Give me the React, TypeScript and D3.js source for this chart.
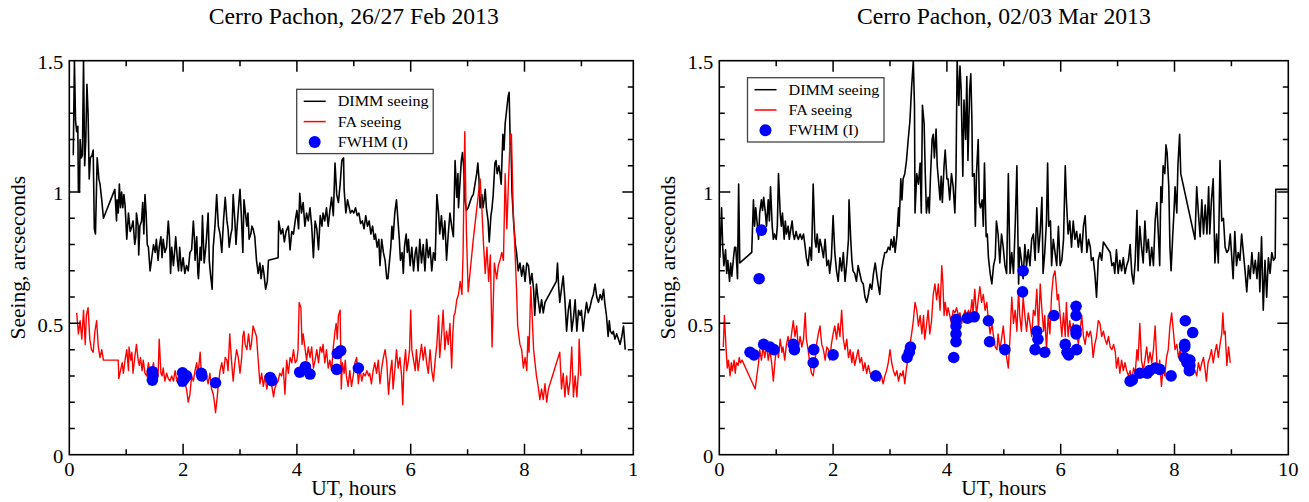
import * as d3 from "d3";

type Pt = [number, number];

// UT hours / seeing (arcsec)
const dimmFeb: Pt[] = [
  [0.07,1.14],[0.09,1.5],[0.11,1.27],[0.13,1.23],[0.15,1.25],[0.16,1.0],[0.18,1.0],[0.19,1.2],[0.21,1.13],[0.23,1.14],
  [0.25,1.5],[0.27,1.1],[0.29,1.2],[0.31,1.41],[0.33,1.3],[0.35,1.05],[0.37,1.13],[0.40,1.14],[0.42,1.16],[0.44,0.86],
  [0.46,0.84],[0.49,1.13],[0.52,1.05],[0.54,1.03],[0.57,0.97],[0.60,0.90],[0.80,1.01],[0.83,0.89],[0.84,0.97],[0.86,0.92],
  [0.88,1.03],[0.90,0.94],[0.92,1.0],[0.94,0.94],[0.96,0.99],[0.98,0.95],[1.01,0.82],[1.04,0.92],[1.07,0.85],[1.10,0.87],
  [1.12,0.89],[1.15,0.80],[1.17,0.83],[1.18,0.92],[1.21,0.87],[1.22,0.76],[1.24,0.87],[1.27,0.89],[1.29,0.96],[1.31,0.84],
  [1.33,0.99],[1.35,0.92],[1.37,0.80],[1.39,0.79],[1.42,0.70],[1.45,0.75],[1.48,0.80],[1.51,0.77],[1.53,0.82],[1.56,0.74],
  [1.58,0.79],[1.61,0.83],[1.63,0.75],[1.65,0.82],[1.68,0.77],[1.71,0.79],[1.74,0.89],[1.76,0.83],[1.78,0.69],[1.80,0.79],
  [1.83,0.72],[1.85,0.77],[1.87,0.83],[1.90,0.74],[1.92,0.70],[1.94,0.79],[1.97,0.70],[2.0,0.75],[2.03,0.69],[2.06,0.72],
  [2.09,0.70],[2.12,0.77],[2.15,0.78],[2.18,0.89],[2.20,0.82],[2.21,0.74],[2.24,0.83],[2.26,0.69],[2.27,0.67],[2.30,0.79],
  [2.32,0.74],[2.34,0.91],[2.37,0.73],[2.39,0.77],[2.41,0.82],[2.44,0.92],[2.46,0.74],[2.48,0.69],[2.51,0.63],[2.53,0.79],
  [2.56,0.87],[2.59,0.99],[2.62,0.87],[2.65,0.84],[2.68,0.77],[2.71,0.89],[2.74,0.98],[2.77,0.89],[2.79,0.86],[2.81,0.79],
  [2.84,0.84],[2.86,0.86],[2.88,0.99],[2.91,0.89],[2.93,0.80],[2.95,0.87],[2.98,0.96],[3.0,1.01],[3.02,0.93],[3.05,0.77],
  [3.07,0.97],[3.09,0.93],[3.12,0.87],[3.14,0.92],[3.16,0.82],[3.19,0.84],[3.21,0.87],[3.23,0.86],[3.26,0.83],[3.29,0.74],
  [3.32,0.69],[3.35,0.73],[3.37,0.67],[3.40,0.72],[3.42,0.69],[3.45,0.63],[3.48,0.66],[3.50,0.74],[3.67,0.75],[3.68,0.89],
  [3.72,0.84],[3.75,0.86],[3.78,0.81],[3.81,0.85],[3.85,0.87],[3.88,0.78],[3.91,0.85],[3.94,0.84],[3.97,0.89],[4.0,0.93],
  [4.03,0.86],[4.05,0.995],[4.08,0.92],[4.11,0.96],[4.14,0.87],[4.17,0.92],[4.20,0.89],[4.23,0.94],[4.26,0.87],[4.29,0.75],
  [4.32,0.89],[4.35,0.86],[4.38,0.78],[4.41,0.91],[4.44,0.87],[4.46,0.92],[4.49,0.89],[4.52,0.94],[4.55,0.87],[4.58,0.93],
  [4.61,0.98],[4.64,0.91],[4.67,1.11],[4.70,0.99],[4.73,0.96],[4.76,1.03],[4.79,1.12],[4.82,1.13],[4.83,1.01],[4.86,0.92],
  [4.89,0.97],[4.92,0.94],[4.94,0.92],[4.97,0.93],[5.0,0.92],[5.03,0.94],[5.06,0.91],[5.09,0.92],[5.12,0.88],[5.15,0.89],
  [5.18,0.86],[5.21,0.91],[5.24,0.87],[5.27,0.89],[5.30,0.84],[5.33,0.87],[5.36,0.82],[5.38,0.84],[5.41,0.79],[5.44,0.82],
  [5.46,0.72],[5.49,0.82],[5.52,0.77],[5.55,0.74],[5.58,0.67],[5.60,0.67],[5.62,0.72],[5.65,0.79],[5.67,0.87],[5.69,0.82],
  [5.72,0.92],[5.75,0.97],[5.78,0.88],[5.80,0.82],[5.82,0.74],[5.85,0.77],[5.87,0.69],[5.89,0.79],[5.92,0.84],[5.94,0.77],
  [5.96,0.82],[5.99,0.72],[6.02,0.79],[6.05,0.70],[6.08,0.77],[6.10,0.79],[6.13,0.70],[6.16,0.82],[6.19,0.73],[6.22,0.80],
  [6.25,0.70],[6.28,0.82],[6.31,0.75],[6.34,0.79],[6.37,0.70],[6.40,0.77],[6.43,0.74],[6.46,0.99],[6.49,0.92],[6.51,0.84],
  [6.54,0.91],[6.57,0.82],[6.60,0.89],[6.63,0.74],[6.66,0.84],[6.69,0.92],[6.72,0.87],[6.75,0.83],[6.76,0.92],[6.78,1.12],
  [6.81,0.98],[6.83,1.07],[6.84,0.94],[6.87,1.05],[6.89,1.12],[6.91,1.15],[6.93,1.10],[6.95,0.97],[6.98,0.93],[7.01,0.94],
  [7.04,0.96],[7.07,0.98],[7.10,0.99],[7.13,1.03],[7.16,1.07],[7.18,1.11],[7.20,1.05],[7.22,0.94],[7.25,0.99],[7.27,0.94],
  [7.29,0.97],[7.31,1.01],[7.33,0.94],[7.36,0.89],[7.38,0.81],[7.41,0.91],[7.43,0.94],[7.45,0.99],[7.48,1.11],[7.50,1.12],
  [7.52,1.07],[7.55,1.10],[7.57,1.07],[7.59,1.03],[7.62,1.22],[7.64,1.16],[7.66,1.26],[7.69,1.32],[7.71,1.36],[7.73,1.38],
  [7.75,1.18],[7.76,1.21],[7.78,1.0],[7.81,0.88],[7.84,0.80],[7.86,0.77],[7.89,0.70],[7.92,0.73],[7.95,0.68],[7.98,0.72],
  [8.01,0.66],[8.04,0.73],[8.07,0.72],[8.10,0.65],[8.13,0.69],[8.16,0.63],[8.18,0.53],[8.21,0.65],[8.24,0.59],[8.27,0.54],
  [8.30,0.59],[8.33,0.54],[8.36,0.58],[8.56,0.66],[8.58,0.73],[8.60,0.64],[8.62,0.58],[8.65,0.63],[8.68,0.68],[8.71,0.59],
  [8.74,0.47],[8.77,0.55],[8.80,0.59],[8.83,0.47],[8.86,0.52],[8.89,0.59],[8.92,0.47],[8.95,0.55],[8.98,0.53],[9.0,0.55],
  [9.03,0.47],[9.06,0.53],[9.09,0.58],[9.12,0.54],[9.15,0.56],[9.18,0.59],[9.21,0.61],[9.24,0.65],[9.27,0.60],[9.30,0.58],
  [9.33,0.61],[9.36,0.59],[9.39,0.63],[9.41,0.58],[9.44,0.53],[9.47,0.45],[9.49,0.51],[9.51,0.47],[9.54,0.46],[9.56,0.47],
  [9.59,0.44],[9.62,0.46],[9.65,0.44],[9.68,0.42],[9.71,0.45],[9.74,0.49],[9.77,0.40],
];

const faFeb: Pt[] = [
  [0.13,0.54],[0.16,0.46],[0.19,0.51],[0.22,0.44],[0.25,0.55],[0.28,0.42],[0.30,0.53],[0.33,0.56],[0.36,0.44],[0.39,0.40],
  [0.42,0.39],[0.45,0.47],[0.48,0.51],[0.51,0.41],[0.54,0.37],[0.57,0.40],[0.60,0.36],[0.64,0.36],[0.86,0.36],[0.87,0.29],
  [0.90,0.32],[0.93,0.35],[0.95,0.31],[0.98,0.36],[1.01,0.40],[1.04,0.32],[1.05,0.41],[1.08,0.36],[1.10,0.39],[1.12,0.31],
  [1.15,0.37],[1.18,0.42],[1.21,0.36],[1.23,0.34],[1.25,0.37],[1.28,0.32],[1.30,0.36],[1.33,0.31],[1.36,0.30],[1.39,0.35],
  [1.42,0.31],[1.45,0.32],[1.48,0.35],[1.51,0.28],[1.53,0.33],[1.56,0.30],[1.58,0.44],[1.61,0.31],[1.63,0.30],[1.65,0.33],
  [1.68,0.28],[1.71,0.31],[1.74,0.29],[1.77,0.28],[1.80,0.30],[1.83,0.28],[1.86,0.32],[1.89,0.28],[1.92,0.30],[1.94,0.26],
  [1.97,0.28],[2.0,0.32],[2.03,0.27],[2.06,0.25],[2.09,0.20],[2.12,0.23],[2.15,0.30],[2.18,0.28],[2.21,0.32],[2.24,0.35],
  [2.26,0.30],[2.30,0.39],[2.32,0.31],[2.36,0.28],[2.38,0.31],[2.41,0.30],[2.44,0.27],[2.47,0.31],[2.50,0.25],[2.53,0.23],
  [2.55,0.20],[2.57,0.16],[2.60,0.22],[2.62,0.27],[2.65,0.32],[2.68,0.35],[2.71,0.31],[2.74,0.37],[2.77,0.36],[2.79,0.32],
  [2.82,0.46],[2.85,0.36],[2.88,0.28],[2.91,0.35],[2.94,0.40],[2.97,0.37],[3.0,0.31],[3.03,0.37],[3.05,0.45],[3.07,0.47],
  [3.09,0.42],[3.12,0.40],[3.15,0.46],[3.18,0.40],[3.20,0.42],[3.23,0.49],[3.26,0.47],[3.29,0.45],[3.32,0.36],[3.35,0.27],
  [3.38,0.31],[3.41,0.26],[3.44,0.30],[3.47,0.25],[3.50,0.28],[3.53,0.27],[3.56,0.26],[3.59,0.22],[3.61,0.25],[3.64,0.27],
  [3.67,0.28],[3.70,0.31],[3.73,0.30],[3.76,0.33],[3.79,0.23],[3.82,0.36],[3.85,0.31],[3.88,0.37],[3.91,0.35],[3.94,0.40],
  [3.97,0.35],[4.0,0.36],[4.02,0.40],[4.04,0.58],[4.07,0.56],[4.09,0.42],[4.11,0.46],[4.14,0.41],[4.17,0.36],[4.20,0.41],
  [4.23,0.37],[4.26,0.41],[4.29,0.33],[4.32,0.36],[4.35,0.40],[4.38,0.35],[4.41,0.41],[4.44,0.39],[4.46,0.42],[4.49,0.35],
  [4.52,0.40],[4.55,0.33],[4.58,0.36],[4.61,0.32],[4.64,0.41],[4.67,0.47],[4.69,0.50],[4.71,0.44],[4.73,0.53],[4.76,0.55],
  [4.78,0.25],[4.80,0.35],[4.83,0.31],[4.85,0.36],[4.87,0.30],[4.90,0.26],[4.93,0.32],[4.96,0.26],[4.99,0.30],[5.02,0.35],
  [5.05,0.37],[5.08,0.27],[5.11,0.33],[5.14,0.28],[5.17,0.31],[5.20,0.30],[5.23,0.32],[5.26,0.30],[5.28,0.31],[5.31,0.27],
  [5.34,0.32],[5.37,0.35],[5.40,0.31],[5.43,0.36],[5.46,0.27],[5.49,0.33],[5.52,0.37],[5.55,0.40],[5.58,0.35],[5.61,0.23],
  [5.64,0.31],[5.67,0.36],[5.69,0.25],[5.72,0.32],[5.75,0.40],[5.78,0.33],[5.81,0.37],[5.84,0.30],[5.86,0.19],[5.88,0.33],
  [5.91,0.40],[5.93,0.32],[5.96,0.36],[5.98,0.40],[6.0,0.55],[6.02,0.40],[6.05,0.36],[6.08,0.32],[6.10,0.40],[6.13,0.32],
  [6.16,0.37],[6.19,0.42],[6.22,0.36],[6.25,0.41],[6.28,0.35],[6.31,0.31],[6.34,0.40],[6.37,0.32],[6.40,0.28],[6.43,0.36],
  [6.46,0.42],[6.49,0.53],[6.51,0.37],[6.54,0.45],[6.57,0.55],[6.60,0.40],[6.63,0.47],[6.66,0.42],[6.69,0.50],[6.72,0.33],
  [6.74,0.46],[6.76,0.53],[6.78,0.54],[6.81,0.59],[6.84,0.61],[6.87,0.66],[6.90,0.61],[6.92,0.76],[6.95,1.23],[6.98,0.84],
  [7.01,0.62],[7.10,0.82],[7.22,1.05],[7.25,0.94],[7.28,0.80],[7.31,0.69],[7.34,0.79],[7.37,0.66],[7.40,0.76],[7.43,0.41],
  [7.47,0.73],[7.51,0.67],[7.54,0.72],[7.57,0.74],[7.60,0.77],[7.63,0.74],[7.66,1.07],[7.69,0.86],[7.72,1.05],[7.75,1.22],
  [7.77,1.22],[7.80,0.94],[7.83,0.79],[7.86,0.63],[7.88,0.49],[7.92,0.42],[7.95,0.40],[7.98,0.33],[8.01,0.37],[8.04,0.32],
  [8.06,0.45],[8.08,0.39],[8.11,0.64],[8.13,0.55],[8.16,0.40],[8.18,0.36],[8.21,0.30],[8.24,0.26],[8.27,0.21],[8.30,0.25],
  [8.33,0.21],[8.36,0.27],[8.39,0.20],[8.42,0.25],[8.62,0.39],[8.65,0.25],[8.68,0.31],[8.71,0.22],[8.74,0.30],[8.77,0.23],
  [8.80,0.28],[8.83,0.41],[8.86,0.22],[8.89,0.30],[8.92,0.22],[8.95,0.32],[8.96,0.44],[8.99,0.30],
];

const fwhmFeb: Pt[] = [
  [1.46,0.316],[1.46,0.284],[1.47,0.30],[1.99,0.312],[1.99,0.28],[2.06,0.30],[2.02,0.29],[2.32,0.31],[2.33,0.30],
  [2.57,0.274],[3.53,0.294],[3.56,0.282],[4.05,0.314],[4.15,0.335],[4.23,0.307],[4.70,0.325],[4.71,0.385],[4.77,0.396],
  [5.08,0.33],
];

const dimmMar: Pt[] = [
  [0.01,0.75],[0.04,0.94],[0.06,0.79],[0.08,0.72],[0.11,0.78],[0.13,0.69],[0.15,0.74],[0.18,0.66],[0.20,0.73],[0.22,0.68],
  [0.25,0.75],[0.27,0.79],[0.29,0.79],[0.32,0.67],[0.34,1.03],[0.36,0.73],[0.57,0.77],[0.60,0.97],[0.62,0.87],[0.64,0.94],
  [0.67,0.87],[0.69,0.82],[0.71,0.92],[0.74,0.97],[0.76,0.93],[0.78,0.98],[0.81,0.92],[0.83,0.87],[0.86,0.97],[0.88,0.89],
  [0.90,1.02],[0.93,0.87],[0.95,0.82],[0.97,0.84],[1.0,0.82],[1.02,0.87],[1.04,1.07],[1.07,0.92],[1.09,0.87],[1.11,0.92],
  [1.14,0.82],[1.16,0.89],[1.18,0.84],[1.21,0.87],[1.23,0.82],[1.25,0.85],[1.28,0.89],[1.30,0.84],[1.32,0.82],[1.35,0.85],
  [1.37,0.83],[1.39,0.82],[1.42,0.84],[1.45,0.82],[1.48,0.84],[1.51,0.79],[1.53,0.75],[1.56,0.72],[1.59,0.79],[1.62,0.74],
  [1.65,1.03],[1.68,0.82],[1.70,0.79],[1.72,0.84],[1.75,0.77],[1.77,0.82],[1.80,0.79],[1.83,0.75],[1.86,0.82],[1.89,0.72],
  [1.92,0.74],[1.94,0.69],[1.97,0.75],[2.0,0.91],[2.03,0.77],[2.06,0.70],[2.09,0.66],[2.12,0.75],[2.15,0.70],[2.18,0.77],
  [2.21,0.66],[2.24,0.73],[2.27,0.82],[2.28,0.97],[2.31,0.82],[2.33,0.74],[2.35,0.70],[2.38,0.69],[2.41,0.66],[2.44,0.72],
  [2.47,0.69],[2.50,0.66],[2.53,0.65],[2.56,0.60],[2.59,0.58],[2.62,0.61],[2.65,0.65],[2.68,0.63],[2.71,0.69],[2.74,0.73],
  [2.77,0.68],[2.79,0.65],[2.82,0.61],[2.85,0.70],[2.88,0.74],[2.91,0.77],[2.94,0.77],[2.97,0.79],[3.0,0.78],[3.02,0.82],
  [3.05,0.79],[3.07,0.83],[3.09,0.77],[3.12,0.83],[3.15,0.94],[3.16,0.87],[3.19,1.05],[3.21,0.97],[3.23,1.05],[3.26,1.07],
  [3.29,1.12],[3.32,1.20],[3.35,1.27],[3.38,1.40],[3.41,1.5],[3.43,1.33],[3.44,0.92],[3.47,1.07],[3.50,1.03],[3.53,1.11],
  [3.55,0.92],[3.57,1.33],[3.60,1.26],[3.62,1.07],[3.64,0.92],[3.67,0.98],[3.69,0.92],[3.71,1.05],[3.74,1.20],[3.76,1.22],
  [3.78,1.13],[3.81,1.24],[3.83,1.10],[3.85,1.05],[3.88,0.97],[3.90,1.06],[3.92,0.96],[3.95,1.10],[3.97,1.16],[4.0,1.05],
  [4.02,1.05],[4.05,0.97],[4.08,1.07],[4.11,1.02],[4.14,0.92],[4.16,1.07],[4.18,1.5],[4.21,1.33],[4.23,1.48],[4.25,1.39],
  [4.28,1.06],[4.30,1.35],[4.33,1.20],[4.35,1.44],[4.37,1.12],[4.40,1.39],[4.42,1.45],[4.44,1.27],[4.45,1.06],[4.48,1.07],
  [4.50,0.87],[4.52,1.07],[4.55,1.20],[4.57,0.96],[4.59,0.94],[4.62,0.97],[4.64,0.87],[4.66,1.11],[4.69,0.83],[4.71,0.84],
  [4.73,0.75],[4.76,0.69],[4.79,0.65],[4.82,0.72],[4.85,0.75],[4.87,0.89],[4.90,0.84],[4.93,0.73],[4.96,0.84],[4.99,0.79],
  [5.02,0.72],[5.05,0.69],[5.08,1.07],[5.11,0.69],[5.14,0.77],[5.17,0.69],[5.20,0.87],[5.23,1.10],[5.26,0.65],[5.28,0.79],
  [5.31,0.74],[5.34,0.67],[5.37,0.80],[5.40,0.72],[5.43,0.78],[5.46,0.72],[5.49,0.82],[5.52,0.84],[5.55,0.74],[5.58,0.94],
  [5.61,0.77],[5.64,0.85],[5.67,0.98],[5.69,0.69],[5.72,0.77],[5.75,0.89],[5.77,1.11],[5.79,0.87],[5.82,0.89],[5.84,0.72],
  [5.87,0.82],[5.90,0.77],[5.93,0.72],[5.96,0.87],[5.99,0.72],[6.02,0.74],[6.05,0.82],[6.08,1.10],[6.10,0.97],[6.13,0.84],
  [6.16,0.89],[6.19,0.79],[6.22,0.89],[6.25,0.82],[6.28,0.85],[6.31,0.79],[6.34,0.84],[6.37,0.77],[6.40,0.87],[6.43,0.91],
  [6.46,0.77],[6.49,0.82],[6.52,0.79],[6.54,0.74],[6.57,0.75],[6.60,0.69],[6.63,0.60],[6.66,0.74],[6.69,0.77],[6.72,0.74],
  [6.75,0.81],[6.81,0.79],[6.87,0.77],[6.90,0.72],[6.93,0.73],[6.95,0.69],[6.98,0.78],[7.01,0.69],[7.04,0.74],[7.07,0.70],
  [7.10,0.75],[7.13,0.69],[7.16,0.72],[7.19,0.74],[7.22,0.80],[7.25,0.69],[7.28,0.65],[7.31,0.74],[7.34,0.93],[7.36,0.70],
  [7.39,0.87],[7.42,0.79],[7.45,0.73],[7.48,0.89],[7.51,0.77],[7.54,0.82],[7.57,0.72],[7.60,0.79],[7.63,0.72],[7.66,0.89],
  [7.69,0.96],[7.72,0.82],[7.74,0.72],[7.76,1.02],[7.78,0.96],[7.80,1.10],[7.83,1.07],[7.85,1.18],[7.87,1.15],[7.90,1.02],
  [7.92,0.79],[7.94,0.70],[7.97,0.84],[7.99,0.92],[8.01,1.02],[8.04,0.92],[8.06,1.10],[8.09,1.22],[8.11,1.07],[8.36,0.82],
  [8.39,1.02],[8.42,0.92],[8.45,0.83],[8.48,0.97],[8.51,0.84],[8.54,0.95],[8.57,0.84],[8.60,1.02],[8.62,0.84],[8.65,0.97],
  [8.68,1.05],[8.71,0.73],[8.74,0.84],[8.77,0.73],[8.80,1.12],[8.83,0.89],[8.86,0.90],[8.89,0.79],[8.92,0.77],[8.95,0.78],
  [8.98,0.84],[9.01,0.74],[9.03,0.67],[9.06,0.85],[9.09,0.72],[9.12,0.77],[9.15,0.74],[9.18,0.84],[9.21,0.77],[9.24,0.70],
  [9.27,0.62],[9.30,0.72],[9.33,0.67],[9.36,0.77],[9.39,0.69],[9.42,0.74],[9.45,0.67],[9.48,0.77],[9.50,0.62],[9.53,0.83],
  [9.56,0.55],[9.59,0.74],[9.62,0.60],[9.65,0.75],[9.68,0.69],[9.71,0.77],[9.74,0.74],[9.77,0.75],[9.78,1.01],[9.99,1.01],
];

const faMar: Pt[] = [
  [0.07,0.41],[0.09,0.53],[0.12,0.40],[0.14,0.33],[0.16,0.36],[0.19,0.30],[0.21,0.35],[0.23,0.32],[0.26,0.36],[0.28,0.31],
  [0.30,0.35],[0.33,0.34],[0.35,0.37],[0.37,0.35],[0.40,0.36],[0.63,0.25],[0.66,0.30],[0.69,0.35],[0.71,0.40],[0.74,0.36],
  [0.77,0.41],[0.80,0.37],[0.83,0.42],[0.86,0.36],[0.89,0.40],[0.92,0.35],[0.95,0.28],[0.98,0.36],[1.01,0.41],[1.04,0.37],
  [1.07,0.44],[1.10,0.39],[1.12,0.41],[1.15,0.36],[1.18,0.42],[1.21,0.45],[1.24,0.41],[1.27,0.46],[1.30,0.51],[1.33,0.45],
  [1.36,0.49],[1.39,0.40],[1.42,0.45],[1.45,0.41],[1.48,0.44],[1.51,0.54],[1.53,0.44],[1.56,0.40],[1.59,0.35],[1.62,0.31],
  [1.65,0.30],[1.68,0.35],[1.71,0.42],[1.74,0.46],[1.77,0.49],[1.80,0.42],[1.83,0.40],[1.86,0.36],[1.89,0.41],[1.92,0.40],
  [1.94,0.36],[1.97,0.42],[2.0,0.46],[2.03,0.49],[2.06,0.44],[2.09,0.50],[2.12,0.45],[2.15,0.55],[2.18,0.44],[2.21,0.40],
  [2.24,0.44],[2.27,0.37],[2.30,0.40],[2.33,0.35],[2.35,0.39],[2.38,0.34],[2.41,0.37],[2.44,0.40],[2.47,0.35],[2.50,0.37],
  [2.53,0.32],[2.56,0.35],[2.59,0.31],[2.62,0.34],[2.65,0.31],[2.68,0.30],[2.71,0.31],[2.74,0.28],[2.77,0.30],[2.79,0.30],
  [2.82,0.28],[2.85,0.30],[2.88,0.27],[2.91,0.30],[2.94,0.32],[2.97,0.35],[3.0,0.40],[3.03,0.35],[3.06,0.32],[3.09,0.30],
  [3.12,0.32],[3.15,0.28],[3.18,0.31],[3.21,0.30],[3.23,0.32],[3.26,0.27],[3.29,0.33],[3.32,0.37],[3.35,0.42],[3.38,0.46],
  [3.41,0.51],[3.44,0.58],[3.47,0.55],[3.50,0.49],[3.53,0.53],[3.56,0.46],[3.59,0.53],[3.61,0.44],[3.64,0.49],[3.67,0.55],
  [3.70,0.46],[3.73,0.51],[3.76,0.61],[3.79,0.65],[3.82,0.59],[3.85,0.65],[3.88,0.55],[3.91,0.72],[3.93,0.65],[3.95,0.53],
  [3.97,0.58],[4.0,0.53],[4.02,0.56],[4.05,0.53],[4.08,0.50],[4.11,0.55],[4.14,0.54],[4.17,0.56],[4.20,0.53],[4.23,0.54],
  [4.26,0.50],[4.29,0.53],[4.32,0.55],[4.35,0.53],[4.38,0.55],[4.41,0.53],[4.44,0.59],[4.46,0.54],[4.49,0.63],[4.52,0.53],
  [4.55,0.59],[4.58,0.64],[4.61,0.58],[4.64,0.61],[4.67,0.55],[4.70,0.58],[4.73,0.51],[4.76,0.46],[4.79,0.50],[4.82,0.45],
  [4.85,0.41],[4.88,0.40],[4.90,0.46],[4.93,0.40],[4.96,0.44],[4.99,0.49],[5.02,0.42],[5.05,0.37],[5.08,0.33],[5.11,0.45],
  [5.14,0.60],[5.17,0.50],[5.20,0.55],[5.23,0.47],[5.26,0.63],[5.28,0.53],[5.31,0.47],[5.34,0.60],[5.37,0.53],[5.40,0.47],
  [5.43,0.54],[5.46,0.50],[5.49,0.45],[5.52,0.55],[5.55,0.53],[5.58,0.63],[5.61,0.47],[5.64,0.65],[5.67,0.55],[5.70,0.47],
  [5.72,0.53],[5.75,0.40],[5.78,0.53],[5.81,0.46],[5.84,0.61],[5.87,0.68],[5.90,0.70],[5.92,0.65],[5.94,0.59],[5.96,0.61],
  [5.99,0.53],[6.02,0.45],[6.05,0.54],[6.08,0.45],[6.10,0.58],[6.13,0.45],[6.16,0.51],[6.19,0.46],[6.22,0.50],[6.25,0.45],
  [6.28,0.47],[6.31,0.42],[6.34,0.47],[6.37,0.53],[6.40,0.45],[6.43,0.42],[6.46,0.47],[6.49,0.45],[6.52,0.47],[6.54,0.45],
  [6.57,0.37],[6.60,0.42],[6.63,0.45],[6.66,0.51],[6.69,0.50],[6.72,0.45],[6.75,0.47],[6.78,0.44],[6.81,0.42],[6.84,0.45],
  [6.87,0.41],[6.90,0.40],[6.93,0.42],[6.96,0.39],[6.98,0.33],[7.01,0.37],[7.04,0.31],[7.07,0.36],[7.10,0.32],[7.13,0.35],
  [7.16,0.32],[7.19,0.30],[7.22,0.32],[7.25,0.28],[7.28,0.33],[7.31,0.31],[7.34,0.40],[7.36,0.36],[7.39,0.50],[7.42,0.36],
  [7.45,0.32],[7.48,0.36],[7.51,0.41],[7.54,0.35],[7.57,0.39],[7.60,0.35],[7.63,0.40],[7.66,0.49],[7.69,0.35],[7.72,0.32],
  [7.74,0.36],[7.77,0.26],[7.80,0.33],[7.83,0.30],[7.86,0.37],[7.89,0.40],[7.92,0.49],[7.95,0.54],[7.98,0.47],[8.01,0.40],
  [8.04,0.42],[8.07,0.37],[8.10,0.40],[8.13,0.35],[8.16,0.36],[8.19,0.32],[8.21,0.36],[8.24,0.34],[8.27,0.36],[8.30,0.31],
  [8.33,0.34],[8.36,0.32],[8.39,0.30],[8.42,0.35],[8.45,0.32],[8.48,0.35],[8.51,0.37],[8.54,0.32],[8.56,0.28],[8.59,0.35],
  [8.62,0.37],[8.65,0.40],[8.68,0.35],[8.71,0.39],[8.74,0.42],[8.77,0.37],[8.80,0.42],[8.83,0.46],[8.85,0.54],[8.87,0.46],
  [8.89,0.47],[8.92,0.34],[8.95,0.41],[8.98,0.35],
];

const fwhmMar: Pt[] = [
  [0.54,0.39],[0.61,0.38],[0.70,0.67],[0.74,0.855],[0.78,0.42],[0.89,0.41],[0.96,0.40],[1.30,0.42],[1.32,0.40],[1.66,0.40],
  [1.65,0.35],[2.0,0.38],[2.75,0.30],[3.30,0.37],[3.34,0.39],[3.36,0.41],[4.12,0.37],[4.16,0.43],[4.16,0.46],[4.16,0.49],
  [4.16,0.515],[4.36,0.52],[4.48,0.525],[4.73,0.51],[4.75,0.43],[5.02,0.40],[5.33,0.62],[5.34,0.70],[5.58,0.47],[5.60,0.44],
  [5.55,0.40],[5.72,0.39],[5.88,0.53],[6.08,0.42],[6.11,0.39],[6.14,0.38],[6.27,0.565],[6.27,0.53],[6.27,0.475],[6.27,0.46],
  [6.28,0.40],[7.22,0.28],[7.26,0.285],[7.39,0.31],[7.52,0.31],[7.56,0.32],[7.66,0.33],[7.74,0.325],[7.94,0.30],[8.19,0.51],
  [8.32,0.465],[8.18,0.42],[8.18,0.41],[8.17,0.37],[8.27,0.36],[8.27,0.34],[8.26,0.32],[8.22,0.35],
];

const xTickLabels = [0, 2, 4, 6, 8, 10];
const yTickLabels = [0, 0.5, 1, 1.5];
const legendItems = ["DIMM seeing", "FA seeing", "FWHM (I)"];

const FONT = "'Liberation Serif','Times New Roman',serif";
const Y0 = 454.7;
const Y1 = 60.7;

function Txt({ x, y, size, anchor = "start", sx = 1.05, children }: any) {
  return (
    <text transform={`translate(${x},${y}) scale(${sx},1)`} fontSize={size} textAnchor={anchor}
      fontFamily={FONT} fill="#000">{children}</text>
  );
}

function Panel({ id, x0, frameRight, title, dimm, fa, fwhm, legend, labelClip }: any) {
  const x = d3.scaleLinear().domain([0, 10]).range([x0, x0 + 569]);
  const y = d3.scaleLinear().domain([0, 1.5]).range([Y0, Y1]);
  const line = d3.line<Pt>().x((d) => x(d[0])).y((d) => y(d[1]));
  const left = x(0);
  const fx = frameRight;

  // inward ticks on all four sides, built as one path
  let tickPath = "";
  x.ticks(10).forEach((t) => {
    const px = x(t);
    if (px <= left + 1 || px >= fx - 1) return;
    const len = t % 2 === 0 ? 11 : 5.5;
    tickPath += `M${px},${Y0}V${Y0 - len}M${px},${Y1}V${Y1 + len}`;
  });
  d3.range(1, 15).forEach((i) => {
    const py = y(i / 10);
    const len = i % 5 === 0 ? 11 : 5.5;
    tickPath += `M${left},${py}H${left + len}M${fx},${py}H${fx - len}`;
  });

  return (
    <g>
      <defs>
        <clipPath id={`plot-${id}`}>
          <rect x={left} y={Y1} width={fx - left} height={Y0 - Y1} />
        </clipPath>
        <clipPath id={`lab-${id}`}>
          <rect x={0} y={0} width={labelClip} height={502} />
        </clipPath>
      </defs>
      <Txt x={x(5)} y={24} size={23} anchor="middle" sx={1.03}>{title}</Txt>
      <g clipPath={`url(#plot-${id})`}>
        <path d={line(dimm) || ""} fill="none" stroke="#000" strokeWidth={1.6} strokeLinejoin="round" />
        <path d={line(fa) || ""} fill="none" stroke="#ff0000" strokeWidth={1.4} strokeLinejoin="round" />
        {fwhm.map((d: Pt, i: number) => (
          <circle key={i} cx={x(d[0])} cy={y(d[1])} r={5.8} fill="#0000ff" />
        ))}
      </g>
      <path d={tickPath} fill="none" stroke="#000" strokeWidth={1.5} />
      <rect x={left} y={Y1} width={fx - left} height={Y0 - Y1} fill="none" stroke="#000" strokeWidth={1.6} />
      <g clipPath={`url(#lab-${id})`}>
        {xTickLabels.map((t) => (
          <Txt key={t} x={x(t)} y={475.5} size={19.5} anchor="middle" sx={1.06}>{t}</Txt>
        ))}
      </g>
      {yTickLabels.map((t) => (
        <Txt key={t} x={left - 6} y={y(t) + 8.3} size={19.5} anchor="end" sx={1.06}>{t}</Txt>
      ))}
      <Txt x={x(5)} y={495} size={21} anchor="middle" sx={1.02}>UT, hours</Txt>
      <text transform={`translate(${left - 44},${(Y0 + Y1) / 2}) rotate(-90)`} fontSize={21.5}
        textAnchor="middle" fontFamily={FONT}>Seeing, arcseconds</text>
      <g transform={`translate(${legend[0]},${legend[1]})`}>
        <rect x={0} y={0} width={136.5} height={64.3} fill="#fff" stroke="#444" strokeWidth={1.3} />
        {legendItems.map((name, i) => {
          const cy = 12 + i * 20.3;
          return (
            <g key={name}>
              {i < 2 && (
                <line x1={7} x2={29} y1={cy} y2={cy} stroke={i === 0 ? "#000" : "#ff0000"} strokeWidth={1.5} />
              )}
              {i === 2 && <circle cx={18} cy={cy} r={6} fill="#0000ff" />}
              <Txt x={41} y={cy + 5} size={15.5} sx={1.04}>{name}</Txt>
            </g>
          );
        })}
      </g>
    </g>
  );
}

export default function App() {
  return (
    <svg width={1309} height={502} style={{ position: "absolute", left: 0, top: 0, background: "#fff" }}>
      <rect width={1309} height={502} fill="#fff" />
      <Panel id="feb" x0={69.3} frameRight={633.3} title="Cerro Pachon, 26/27 Feb 2013"
        dimm={dimmFeb} fa={faFeb} fwhm={fwhmFeb} legend={[296.7, 89.3]} labelClip={637} />
      <Panel id="mar" x0={719.3} frameRight={1288.3} title="Cerro Pachon, 02/03 Mar 2013"
        dimm={dimmMar} fa={faMar} fwhm={fwhmMar} legend={[747.5, 77.7]} labelClip={1309} />
    </svg>
  );
}
